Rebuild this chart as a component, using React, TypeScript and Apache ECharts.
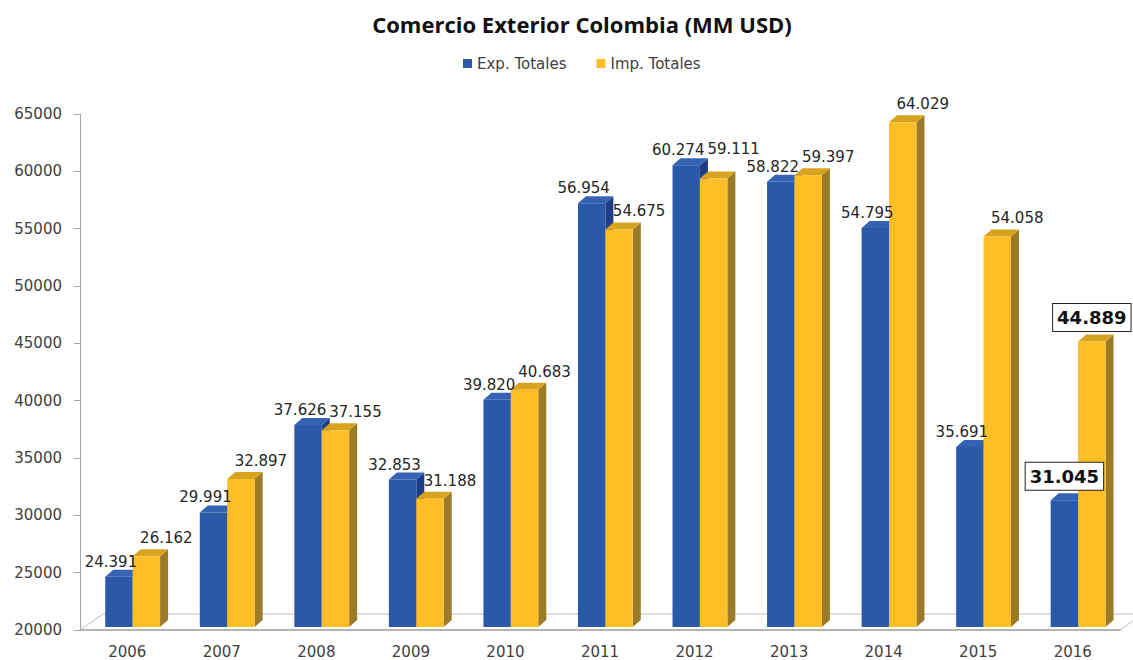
import React, { useEffect, useRef } from "react";
import * as echarts from "echarts";

const categories = ["2006", "2007", "2008", "2009", "2010", "2011", "2012", "2013", "2014", "2015", "2016"];
const exportsValues = [24391, 29991, 37626, 32853, 39820, 56954, 60274, 58822, 54795, 35691, 31045];
const importsValues = [26162, 32897, 37155, 31188, 40683, 54675, 59111, 59397, 64029, 54058, 44889];
const seriesNames = ["Exp. Totales", "Imp. Totales"];
const highlightedCategory = "2016";
const Y_MIN = 20000;
const Y_MAX = 65000;
const Y_INTERVAL = 5000;

const GRID_LEFT = 80;
const GRID_RIGHT = 13;
const GRID_TOP = 114;
const GRID_BOTTOM = 30;
const W = 1133;
const H = 660;
const LABEL_W = 54;
const LABEL_H = 18;

const palettes = [
  { front: "#2A59A7", side: "#1E3D86", top: "#3563B3", dx: -8, dy: -15 },
  { front: "#FDBE28", side: "#9C7B28", top: "#D8A41F", dx: 20, dy: -18 },
];

const fmt = (v: number) => Math.floor(v / 1000) + "." + String(v % 1000).padStart(3, "0");

function geomAt(s: number, idx: number, v: number, api: any) {
  const [cx, yTop0] = api.coord([idx, v]);
  const [, yBase0] = api.coord([idx, Y_MIN]);
  const band = api.size([1, 0])[0];
  const w = band * 0.29;
  const x0 = cx - band * 0.233 + s * w;
  return { x0, w, yb: yBase0 - 3, yt: yTop0 - 3 };
}

function labelPos(s: number, idx: number, v: number, api: any) {
  const g = geomAt(s, idx, v, api);
  const hl = categories[idx] === highlightedCategory;
  const pal = palettes[s];
  const x = hl ? g.x0 + g.w / 2 : g.x0 + g.w / 2 + pal.dx;
  const y = hl ? g.yt - 24 : g.yt + pal.dy;
  return { x, y, hl };
}

function makeBarRender(s: number) {
  const pal = palettes[s];
  return (params: any, api: any) => {
    const { x0, w, yb, yt } = geomAt(s, api.value(0), api.value(1), api);
    const dx = 8;
    const dy = -7;
    return {
      type: "group",
      children: [
        {
          type: "polygon",
          shape: { points: [[x0 + w, yt], [x0 + w + dx, yt + dy], [x0 + w + dx, yb + dy], [x0 + w, yb]] },
          style: { fill: pal.side },
        },
        {
          type: "polygon",
          shape: { points: [[x0, yt], [x0 + dx, yt + dy], [x0 + w + dx, yt + dy], [x0 + w, yt]] },
          style: { fill: pal.top },
        },
        {
          type: "rect",
          shape: { x: x0, y: yt, width: w, height: yb - yt },
          style: { fill: pal.front },
        },
      ],
    };
  };
}

function makeLabelRender(s: number) {
  return (params: any, api: any) => {
    const idx = api.value(0);
    const v = api.value(1);
    let { x, y, hl } = labelPos(s, idx, v, api);
    if (s === 1 && !hl && idx + 1 < categories.length) {
      // avoid colliding with the next category's export label
      const nb = labelPos(0, idx + 1, exportsValues[idx + 1], api);
      if (Math.abs(nb.x - x) < LABEL_W && Math.abs(nb.y - y) < LABEL_H) {
        y = nb.y - LABEL_H;
      }
    }
    return {
      type: "text",
      style: hl
        ? {
            text: fmt(v),
            x,
            y,
            align: "center",
            verticalAlign: "middle",
            font: "bold 18px 'DejaVu Sans'",
            fill: "#111",
            backgroundColor: "#fff",
            borderColor: "#222",
            borderWidth: 1,
            padding: [5, 4, 4, 4],
          }
        : {
            text: fmt(v),
            x,
            y,
            align: "center",
            verticalAlign: "middle",
            font: "15px 'DejaVu Sans'",
            fill: "#262626",
          },
    };
  };
}

export default function App() {
  const ref = useRef<HTMLDivElement>(null);
  useEffect(() => {
    document.body.style.margin = "0";
    const chart = echarts.init(ref.current!, null, { renderer: "svg" });
    const plotRight = W - GRID_RIGHT;
    const baseY = H - GRID_BOTTOM;
    const values = [exportsValues, importsValues];
    const barSeries = values.map((arr, s) => ({
      name: seriesNames[s],
      type: "custom",
      renderItem: makeBarRender(s),
      itemStyle: { color: palettes[s].front },
      data: arr.map((v, i) => [i, v]),
      encode: { x: 0, y: 1 },
      z: 3 + s,
    }));
    const labelSeries = values.map((arr, s) => ({
      name: "labels-" + s,
      type: "custom",
      renderItem: makeLabelRender(s),
      data: arr.map((v, i) => [i, v]),
      encode: { x: 0, y: 1 },
      z: 10,
      silent: true,
    }));
    chart.setOption({
      animation: false,
      backgroundColor: "#fff",
      title: {
        text: "Comercio Exterior Colombia (MM USD)",
        left: 577,
        top: 8,
        textAlign: "center",
        textStyle: { fontFamily: "'Open Sans'", fontWeight: "bold", fontSize: 22, color: "#111" },
      },
      legend: {
        left: 458,
        top: 51,
        icon: "rect",
        itemWidth: 9,
        itemHeight: 9,
        itemGap: 30,
        textStyle: { fontFamily: "'DejaVu Sans'", fontSize: 15, color: "#404040" },
        data: seriesNames,
      },
      grid: { left: GRID_LEFT, right: GRID_RIGHT, top: GRID_TOP, bottom: GRID_BOTTOM },
      xAxis: {
        type: "category",
        data: categories,
        axisLine: { lineStyle: { color: "#A6A6A6", width: 1.5 } },
        axisTick: { show: false },
        axisLabel: { margin: 14, fontFamily: "'DejaVu Sans'", fontSize: 15, color: "#404040" },
      },
      yAxis: {
        type: "value",
        min: Y_MIN,
        max: Y_MAX,
        interval: Y_INTERVAL,
        axisLine: { show: true, lineStyle: { color: "#A6A6A6" } },
        axisTick: { show: true, length: 6, lineStyle: { color: "#A6A6A6" } },
        splitLine: { show: false },
        axisLabel: {
          margin: 18,
          fontFamily: "'DejaVu Sans'",
          fontSize: 15,
          color: "#404040",
          formatter: (v: number) => String(v),
        },
      },
      graphic: [
        {
          type: "polygon",
          z: 0,
          silent: true,
          shape: {
            points: [
              [GRID_LEFT, baseY],
              [GRID_LEFT + 23, baseY - 16],
              [plotRight + 23, baseY - 16],
              [plotRight, baseY],
            ],
          },
          style: { fill: "none", stroke: "#BFBFBF", lineWidth: 1 },
        },
      ],
      series: [...barSeries, ...labelSeries],
    });
    return () => chart.dispose();
  }, []);
  return <div ref={ref} style={{ width: W, height: H }} />;
}
